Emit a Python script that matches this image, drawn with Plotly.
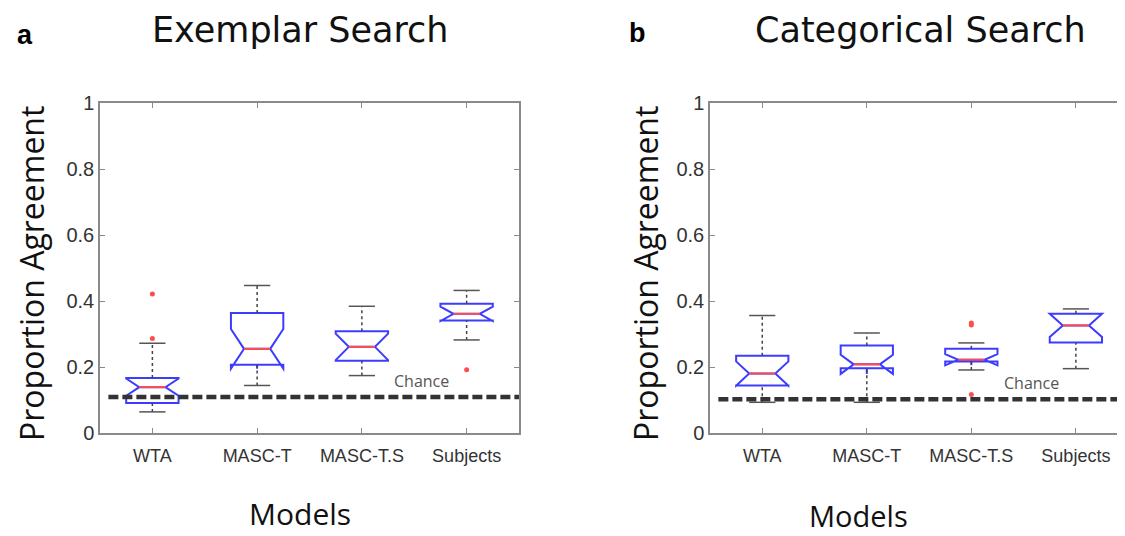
import plotly.graph_objects as go

# ---------------- data ----------------
categories = ["WTA", "MASC-T", "MASC-T.S", "Subjects"]
positions = [1, 2, 3, 4]

# Panel a: Exemplar Search
ex_q1 = [0.091, 0.207, 0.219, 0.341]
ex_med = [0.139, 0.255, 0.261, 0.361]
ex_q3 = [0.167, 0.364, 0.308, 0.392]
ex_lw = [0.064, 0.144, 0.174, 0.282]
ex_uw = [0.272, 0.447, 0.384, 0.432]
ex_notch = [0.026, 0.060, 0.040, 0.022]
ex_out_pos = [1, 1, 4]
ex_out_val = [0.421, 0.286, 0.192]
ex_chance = 0.109

# Panel b: Categorical Search
ca_q1 = [0.144, 0.196, 0.217, 0.274]
ca_med = [0.180, 0.208, 0.222, 0.326]
ca_q3 = [0.234, 0.265, 0.255, 0.361]
ca_lw = [0.093, 0.093, 0.191, 0.195]
ca_uw = [0.356, 0.303, 0.273, 0.376]
ca_notch = [0.037, 0.029, 0.017, 0.035]
ca_out_pos = [3, 3, 3]
ca_out_val = [0.333, 0.327, 0.117]
ca_chance = 0.102

panel_titles = ["Exemplar Search", "Categorical Search"]
panel_letters = ["a", "b"]

# ---------------- style ----------------
OFF = 8  # page body margin
W, H = 1125 - OFF, 536 - OFF
BLUE = "#3c3cff"
RED = "#ff4d4d"
AXC = "#8a8a8a"
BOXW = 0.5
HALF_CAP = 0.125


def px(x):
    return (x - OFF) / W


def py(y):
    return 1 - (y - OFF) / H


fig = go.Figure()


def add_panel(xa, ya, q1, med, q3, lw, uw, notch, opos, oval, chance, xmax):
    fig.add_trace(go.Box(
        x=positions, q1=q1, median=med, q3=q3,
        lowerfence=q1, upperfence=q3, notchspan=notch,
        notched=True, notchwidth=0.25, width=BOXW, whiskerwidth=0,
        line=dict(color=BLUE, width=2), fillcolor="rgba(0,0,0,0)",
        boxpoints=False, hoverinfo="skip", showlegend=False,
        xaxis=xa, yaxis=ya))
    wx, wy, cx, cy, mx, my = [], [], [], [], [], []
    for p, a, b, c, d, m in zip(positions, q1, q3, lw, uw, med):
        wx += [p, p, None, p, p, None]
        wy += [b, d, None, c, a, None]
        cx += [p - HALF_CAP, p + HALF_CAP, None, p - HALF_CAP, p + HALF_CAP, None]
        cy += [d, d, None, c, c, None]
        mx += [p - HALF_CAP, p + HALF_CAP, None]
        my += [m, m, None]
    fig.add_trace(go.Scatter(x=wx, y=wy, mode="lines",
                             line=dict(color="#444444", width=1.5, dash="3px,3px"),
                             hoverinfo="skip", showlegend=False, xaxis=xa, yaxis=ya))
    fig.add_trace(go.Scatter(x=cx, y=cy, mode="lines",
                             line=dict(color="#555555", width=1.5),
                             hoverinfo="skip", showlegend=False, xaxis=xa, yaxis=ya))
    fig.add_trace(go.Scatter(x=mx, y=my, mode="lines",
                             line=dict(color=RED, width=2),
                             hoverinfo="skip", showlegend=False, xaxis=xa, yaxis=ya))
    fig.add_trace(go.Scatter(x=opos, y=oval, mode="markers",
                             marker=dict(color=RED, size=5, symbol="circle"),
                             hoverinfo="skip", showlegend=False, xaxis=xa, yaxis=ya))
    fig.add_trace(go.Scatter(x=[0.58, xmax], y=[chance, chance], mode="lines",
                             line=dict(color="#333333", width=4.5, dash="10px,4px"),
                             hoverinfo="skip", showlegend=False, xaxis=xa, yaxis=ya))


add_panel("x", "y", ex_q1, ex_med, ex_q3, ex_lw, ex_uw, ex_notch,
          ex_out_pos, ex_out_val, ex_chance, 4.5)
add_panel("x2", "y2", ca_q1, ca_med, ca_q3, ca_lw, ca_uw, ca_notch,
          ca_out_pos, ca_out_val, ca_chance, 4.47)

tickfont = dict(family="Liberation Sans, Arial, sans-serif", size=20, color="#333333")
catfont = dict(family="Liberation Sans, Arial, sans-serif", size=18, color="#333333")

common_x = dict(tickvals=positions, ticktext=categories, showline=True, linecolor=AXC,
                linewidth=1.5, mirror="ticks", ticks="inside", ticklen=5, tickcolor=AXC,
                tickwidth=1, showgrid=False, zeroline=False, tickfont=catfont,
                fixedrange=True, automargin=False, ticklabelstandoff=6)
common_y = dict(range=[0, 1], tickvals=[0, 0.2, 0.4, 0.6, 0.8, 1],
                ticktext=["0", "0.2", "0.4", "0.6", "0.8", "1"], showline=True,
                linecolor=AXC, linewidth=1.5, mirror="ticks", ticks="inside", ticklen=5,
                tickcolor=AXC, tickwidth=1, showgrid=False, zeroline=False,
                tickfont=tickfont, fixedrange=True, automargin=False)

fig.update_layout(
    template="none",
    width=W, height=H,
    margin=dict(l=0, r=0, t=0, b=0, pad=0, autoexpand=False),
    paper_bgcolor="white", plot_bgcolor="white",
    showlegend=False,
    xaxis=dict(domain=[px(100), px(519)], range=[0.5, 4.5], anchor="y", **common_x),
    yaxis=dict(domain=[py(433), py(103)], anchor="x", **common_y),
    xaxis2=dict(domain=[px(710), 1.0], range=[0.5, 4.47], anchor="y2", **common_x),
    yaxis2=dict(domain=[py(433), py(103)], anchor="x2", **common_y),
)

ann = []
title_font = dict(family="DejaVu Sans, sans-serif", size=35, color="#111111")
ytitle_font = dict(family="Open Sans, sans-serif", size=32, color="#111111")
letter_font = dict(family="Liberation Sans, Arial, sans-serif", size=27, color="#000000")

for (lx, ly), letter in zip([(25, 35), (637, 33)], panel_letters):
    ann.append(dict(text="<b>%s</b>" % letter, x=px(lx), y=py(ly), xref="paper", yref="paper",
                    xanchor="center", yanchor="middle", showarrow=False, font=letter_font))
for (tx, ty), t in zip([(300, 30), (920, 30)], panel_titles):
    ann.append(dict(text=t, x=px(tx), y=py(ty), xref="paper", yref="paper",
                    xanchor="center", yanchor="middle", showarrow=False, font=title_font))
for (mx_, my_, fs) in [(300, 513, 30), (858, 515, 29)]:
    ann.append(dict(text="Models", x=px(mx_), y=py(my_), xref="paper", yref="paper",
                    xanchor="center", yanchor="middle", showarrow=False,
                    font=dict(family="Open Sans, sans-serif", size=fs, color="#111111")))
for (yx, yy) in [(31, 274), (645, 274)]:
    ann.append(dict(text="Proportion Agreement", x=px(yx), y=py(yy), xref="paper",
                    yref="paper", xanchor="center", yanchor="middle", textangle=-90,
                    showarrow=False, font=ytitle_font))
for xr, yr, cx_, cy_ in [("x", "y", 3.57, ex_chance), ("x2", "y2", 3.58, ca_chance)]:
    ann.append(dict(text="Chance", x=cx_, y=cy_, xref=xr, yref=yr, xanchor="center",
                    yanchor="bottom", yshift=3, showarrow=False,
                    font=dict(family="Open Sans, sans-serif", size=16, color="#555555")))

fig.update_layout(annotations=ann)
fig.write_html("out.html")
